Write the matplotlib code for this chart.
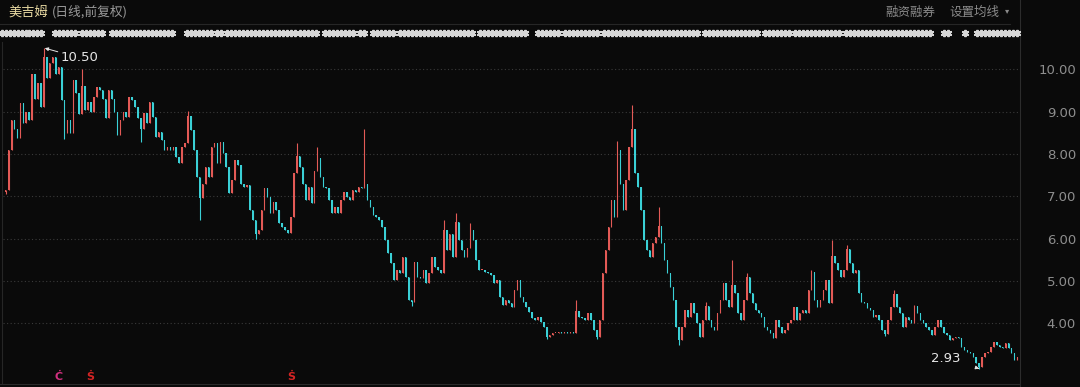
import matplotlib
matplotlib.use("Agg")
import matplotlib.pyplot as plt
from matplotlib.lines import Line2D
from matplotlib.transforms import blended_transform_factory
import numpy as np

plt.rcParams['font.family'] = ['Noto Sans CJK SC', 'DejaVu Sans']

# ---------------- data ----------------
# each entry: close, or [close, high, low] (None = body extent)
seg_a = [[7.15, None, 7.05], 8.1, 8.8, 8.6, 8.37, 9.2, 8.73, 9.0, 8.8, 9.9, 9.3, 9.67, 9.1,
         [10.3, 10.50, None], 9.8, 10.15, 10.3, 9.9, 10.05, 9.27, [8.5, None, 8.35], 8.8, 8.5,
         9.75, 9.43, 8.95, [9.6, 10.0, None], 9.03, 9.23, 9.0, 9.35, 9.58, 9.5, 9.3, 8.85, 9.5,
         9.3, 9.0, 8.45, 8.8, 9.0, 8.87, 9.35, 9.27, 9.1, 8.85, [8.6, None, 8.28], 8.96, 8.72,
         9.23, 8.87, 8.4, 8.52, 8.33, 8.1, 8.17, 8.1, 8.17, 7.93]
seg_b = [7.78, 8.17, 8.25, [8.9, 9.02, None], 8.57, 8.1, 7.45, [6.95, None, 6.45], 7.3, 7.7,
         7.45, 8.17, 8.25, 7.78, 8.28, 8.02, 7.7, 7.07, 7.38, 7.85, 7.74, 7.3, 7.22, 7.27, 6.68,
         6.44, [6.1, None, 6.0], 6.2, 6.68, 7.2, 6.99, 6.6, 6.87, 6.68, 6.37, 6.28, 6.2, 6.13,
         6.52, 7.54, [7.95, 8.25, None], 7.7, 7.3, 6.91, 7.22, 6.84, 7.6, [7.9, 8.17, None],
         7.45, 7.22, 7.2, 6.91, 6.6, 6.75, 6.6, 6.91, 7.1, 6.99, 6.91, 7.15, 7.1, 7.22, 7.2,
         [7.3, 8.6, None], 6.91, 6.75, 6.56, 6.52, 6.44, 6.28, 5.97]
seg_c = [5.66, 5.42, 5.02, 5.26, 5.18, 5.56, 5.1, 4.55, [4.5, None, 4.4], 5.45, 5.1, 5.07,
         5.26, 4.95, 5.18, 5.56, 5.33, 5.26, 5.18, [6.2, 6.44, None], 5.73, 6.12, 5.56,
         [6.4, 6.6, None], 5.97, 5.73, 5.56, 5.78, [6.2, 6.37, None], 5.97, 5.5, 5.26, 5.26,
         5.21, 5.18, 5.14, 4.95, 5.02, 4.62, 4.43, 4.55, 4.47, 4.39, 4.79, 5.02, 4.62, 4.5,
         4.39, 4.27, 4.13, 4.08, 4.15, 4.04, 3.92, [3.68, None, 3.62], 3.72, 3.77, 3.77, 3.8,
         3.77, 3.8, 3.77, 3.8, 3.77, [4.3, 4.55, None], 4.15, 4.13]
seg_d = [4.08, 4.24, 4.08, 3.84, [3.68, None, 3.62], 4.08, 5.18, 5.73, 6.28, 6.91, 6.52,
         [8.1, 8.3, None], 7.3, 6.68, 7.38, 8.17, [8.6, 9.15, None], 7.54, 7.22, 6.68, 5.97,
         5.73, 5.56, 5.89, 6.04, [6.3, 6.75, None], 5.89, 5.5, 5.18, 4.86, 4.55, 3.92,
         [3.6, None, 3.49], 3.92, 4.31, 4.15, 4.47, 4.24, 4.0, 3.68, 4.08, [4.4, 4.5, None],
         4.08, 3.92, 3.84, 4.24, 4.55, 4.95, 4.55, 4.39, [4.9, 5.5, None], 4.71, 4.24, 4.08,
         4.55, [5.1, 5.18, None], 4.71, 4.47, 4.31, 4.24, 4.15, 3.92, 3.84, 3.77, 3.65, 4.08,
         3.92, 3.77, 3.84, 4.0, 4.08, 4.39, 4.08, 4.24, 4.31, 4.24, 4.79, [5.2, 5.26, None],
         4.55, 4.39, 4.55]
seg_e = [4.79, 5.02, 4.47, [5.6, 5.97, None], 5.42, 5.26, 5.1, 5.26, [5.75, 5.85, None],
         5.42, 5.18, 5.26, 4.71, 4.5, 4.47, 4.35, 4.31, 4.15, 4.2, 4.08, 3.84, [3.75, None, 3.7],
         4.08, 4.39, [4.7, 4.79, None], 4.39, 4.24, 3.92, 4.15, 4.08, 4.0, [4.4, 4.43, None],
         4.24, 4.08, 4.0, 3.92, 3.84, 3.72, 3.92, 4.08, 3.92, 3.77, 3.72, 3.6, 3.65, 3.68, 3.65,
         3.44, 3.37, 3.32, 3.3, 3.2, 3.06, [2.97, None, 2.93], 3.2, 3.3, 3.32, 3.44, 3.55, 3.48,
         3.44, 3.42, 3.53, 3.42, 3.3, 3.13, 3.2]

y_ticks = [4.0, 5.0, 6.0, 7.0, 8.0, 9.0, 10.0]
title = "美吉姆"
subtitle = "(日线,前复权)"
right_menu = ["融资融券", "设置均线"]

# ---------------- build OHLC ----------------
entries = seg_a + seg_b + seg_c + seg_d + seg_e
close, high, low = [], [], []
for e in entries:
    if isinstance(e, list):
        close.append(e[0]); high.append(e[1]); low.append(e[2])
    else:
        close.append(e); high.append(None); low.append(None)
close = np.array(close, dtype=float)
opn = np.concatenate([[close[0] - 0.05], close[:-1]])
body_hi = np.maximum(opn, close)
body_lo = np.minimum(opn, close)
high = np.array([h if h is not None else bh for h, bh in zip(high, body_hi)])
low = np.array([l if l is not None else bl for l, bl in zip(low, body_lo)])
N = len(close)
idx = np.arange(N)

BG = '#0a0a0a'
RED = '#e35a56'
CYAN = '#3ad0d6'

W, H = 1080, 387
fig = plt.figure(figsize=(W / 100, H / 100), dpi=100, facecolor=BG)
ax = fig.add_axes([3 / W, 4 / H, 1017 / W, 343 / H])
ax.set_facecolor(BG)
ax.set_ylim(2.589, 10.692)
ax.set_xlim(-0.9, N - 0.1)
for s in ax.spines.values():
    s.set_visible(False)
ax.set_xticks([]); ax.set_yticks([])

# grid
for p in y_ticks:
    ax.axhline(p, color='#3a3a3a', lw=0.8, ls=(0, (1, 2.2)), zorder=0)

up = close >= opn
cols = np.where(up, RED, CYAN)
ax.vlines(idx, low, high, colors=cols, lw=0.8, zorder=2)
heights = np.maximum(body_hi - body_lo, 0.02)
ax.bar(idx, heights, bottom=body_lo, width=0.5, color=cols, edgecolor=cols, lw=0, zorder=3)

# max / min annotations
imax = int(np.argmax(high)); imin = int(np.argmin(low))
ax.annotate(f"{high[imax]:.2f}", xy=(imax + 0.3, high[imax]), xytext=(25, -7),
            textcoords='offset points', color='#e6e6e6', fontsize=9.5, va='center', ha='center',
            family=['DejaVu Sans'],
            arrowprops=dict(arrowstyle='-|>', color='#e6e6e6', lw=0.7, mutation_scale=5,
                            shrinkA=13, shrinkB=0))
ax.annotate(f"{low[imin]:.2f}", xy=(imin, low[imin]), xytext=(-24, 7),
            textcoords='offset points', color='#e6e6e6', fontsize=9.5, va='center', ha='center',
            family=['DejaVu Sans'],
            arrowprops=dict(arrowstyle='-|>', color='#e6e6e6', lw=0.7, mutation_scale=5,
                            shrinkA=11, shrinkB=0))

# right-side price labels
tr = blended_transform_factory(fig.transFigure, ax.transData)
for p in y_ticks:
    ax.text(1076 / W, p - 0.04, f"{p:.2f}", transform=tr, ha='right', va='center',
            color='#8e8e8e', fontsize=9.5, family=['DejaVu Sans'], clip_on=False)

# frame lines
fig.add_artist(Line2D([1020 / W, 1020 / W], [0, 1], color='#2c2c2c', lw=0.8))
fig.add_artist(Line2D([2 / W, 2 / W], [4 / H, 345 / H], color='#262626', lw=0.8))
fig.add_artist(Line2D([0, 1010 / W], [1 - 24 / H, 1 - 24 / H], color='#262626', lw=0.8))
fig.add_artist(Line2D([0, 1020 / W], [3 / H, 3 / H], color='#2a2a2a', lw=0.8))

# header
fig.text(8 / W, 1 - 12 / H, title, color='#e8d9a2', fontsize=9.5, va='center', ha='left')
fig.text(52 / W, 1 - 12 / H, subtitle, color='#9a9a9a', fontsize=9.2, va='center', ha='left')
fig.text(885 / W, 1 - 12 / H, right_menu[0], color='#8a8a8a', fontsize=9, va='center', ha='left')
fig.text(949 / W, 1 - 12 / H, right_menu[1], color='#8a8a8a', fontsize=9, va='center', ha='left')
fig.text(1007 / W, 1 - 11 / H, "▾", color='#8a8a8a', fontsize=6, va='center', ha='center',
         family=['DejaVu Sans'])

# info-mine marker row (decorative)
runs = [(2, 27), (29, 43), (55, 78), (82, 103), (112, 173), (187, 212), (217, 222), (227, 297),
        (300, 318), (325, 353), (360, 365), (373, 395), (400, 440), (444, 475), (480, 500),
        (505, 525), (538, 560), (565, 600), (604, 640), (645, 700), (705, 760), (765, 790),
        (795, 840), (846, 932), (944, 950), (965, 968), (977, 1018)]
mx = []
for a, b in runs:
    mx.extend(np.arange(a, b + 0.1, 4.0))
mx = np.array(mx)
fig.add_artist(Line2D(mx / W, np.full(len(mx), 1 - 33 / H), ls='none', marker=(6, 2, 0),
                      markersize=5.2, markeredgewidth=1.4, color='#d6d6d6'))

# bottom event markers
fig.text(59 / W, 1 - 377 / H, "Ċ", color='#d23080', fontsize=8, fontweight='bold',
         va='center', ha='center', family=['DejaVu Sans'])
for xp in (90, 291):
    fig.text(xp / W, 1 - 377 / H, "Ṡ", color='#d42424', fontsize=8, fontweight='bold',
             va='center', ha='center', family=['DejaVu Sans'])

fig.savefig("out.png", dpi=100, facecolor=BG)
